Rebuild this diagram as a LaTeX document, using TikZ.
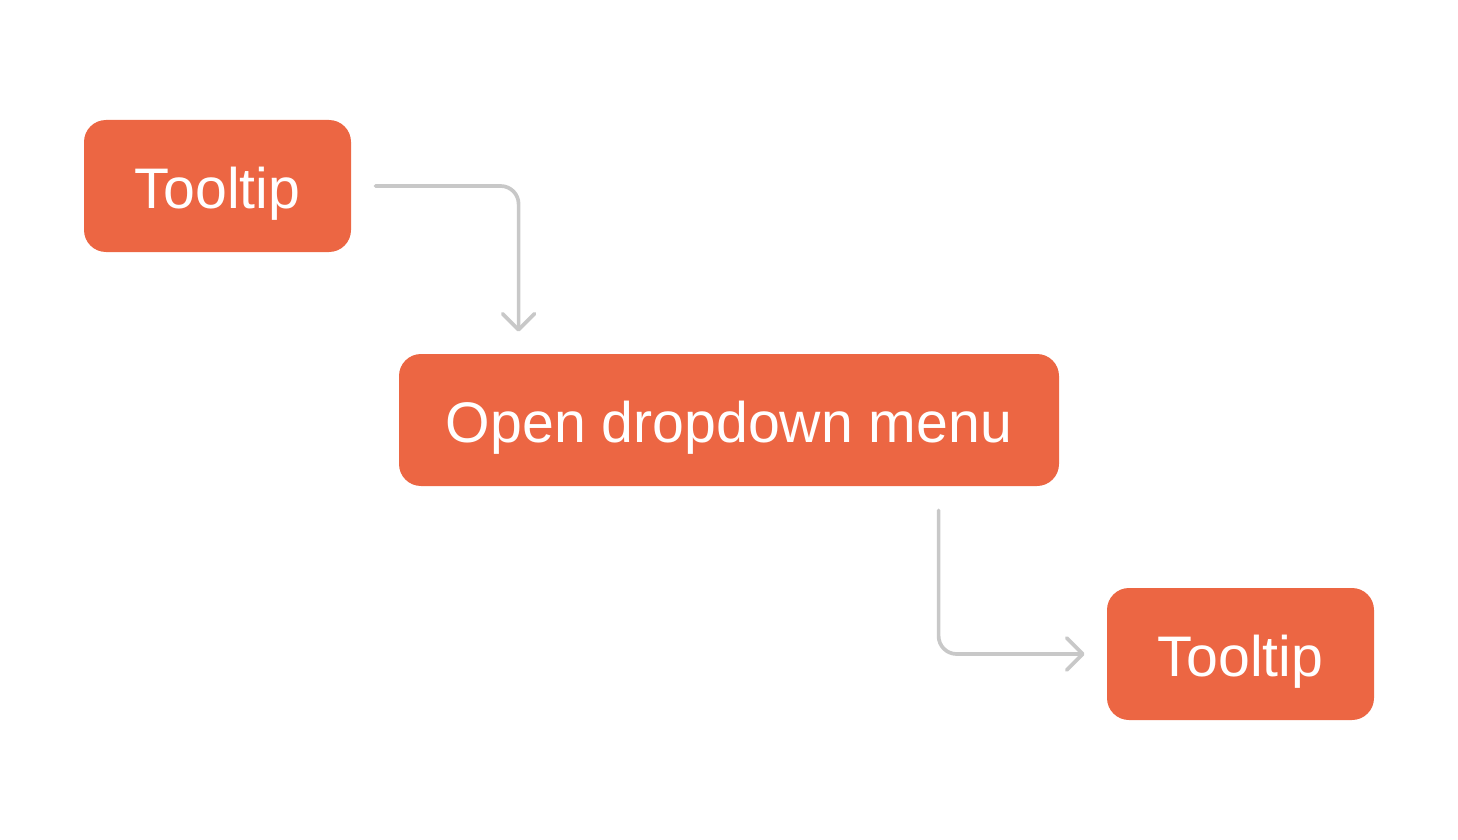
\documentclass[tikz,border=0pt]{standalone}
\usepackage{fontspec}
\setmainfont{Liberation Sans}
\usetikzlibrary{arrows.meta,calc}
\definecolor{tipred}{HTML}{EC6643}
\definecolor{linkgray}{HTML}{C8C8C8}
\begin{document}
\begin{tikzpicture}[x=0.5pt,y=-0.5pt,
  box/.style={fill=tipred,rounded corners=11pt,inner sep=0pt,minimum height=66pt,
    text height=22pt,text depth=0pt,
    text=white,font=\fontsize{28.6}{34}\selectfont},
  flow/.style={draw=linkgray,line width=1.85pt,rounded corners=9pt,line cap=round,
    shorten <=12pt,shorten >=11pt,
    -{Straight Barb[length=8pt,width=16pt,line width=1.85pt,round]}}]
\useasboundingbox (0,0) rectangle (1458,840);
% boxes
\node[box,minimum width=133.5pt] (tipA) at (217.5,186) {Tooltip};
\node[box,minimum width=330pt] (menu) at (729,420) {Open dropdown menu};
\node[box,minimum width=133.5pt] (tipB) at (1240.5,654) {Tooltip};
% where the links meet the menu
\coordinate (menuin) at ($(menu.north west)+(120,0)$);
\coordinate (menuout) at ($(menu.south west)+(540,0)$);
% links
\draw[flow] (tipA.east) -| (menuin);
\draw[flow] (menuout) |- (tipB.west);
\end{tikzpicture}
\end{document}
